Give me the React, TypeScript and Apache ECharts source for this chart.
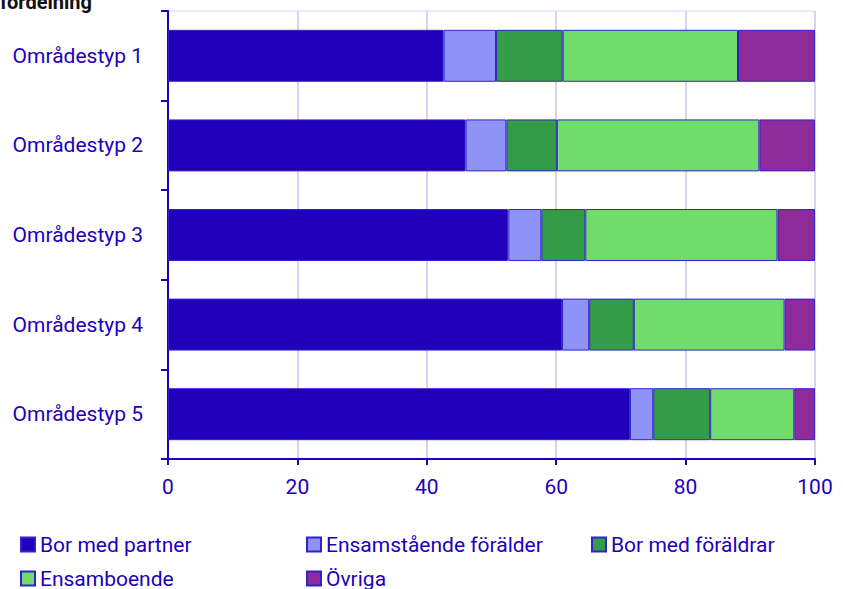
import React, { useEffect, useRef } from "react";
import * as echarts from "echarts";

const categories = ["Områdestyp 1", "Områdestyp 2", "Områdestyp 3", "Områdestyp 4", "Områdestyp 5"];
const borMedPartner = [42.6, 46.0, 52.6, 60.9, 71.4];
const ensamstaendeForalder = [8.1, 6.3, 5.1, 4.2, 3.6];
const borMedForaldrar = [10.3, 7.8, 6.8, 6.9, 8.8];
const ensamboende = [27.1, 31.3, 29.7, 23.3, 13.0];
const ovriga = [11.9, 8.6, 5.8, 4.7, 3.2];
const xTicks = [0, 20, 40, 60, 80, 100];

const seriesNames = ["Bor med partner", "Ensamstående förälder", "Bor med föräldrar", "Ensamboende", "Övriga"];
const seriesData = [borMedPartner, ensamstaendeForalder, borMedForaldrar, ensamboende, ovriga];
const colors = ["#2200bb", "#8f93f5", "#339c46", "#70dd6a", "#8e2a9a"];

const TEXT = "#2200bb";
const FONT = "Roboto";

export default function App() {
  const ref = useRef<HTMLDivElement>(null);
  useEffect(() => {
    const chart = echarts.init(ref.current!, null, { renderer: "svg" });
    const legendPos = [
      { left: 20, top: 534 },
      { left: 306, top: 534 },
      { left: 591, top: 534 },
      { left: 20, top: 568 },
      { left: 306, top: 568 },
    ];
    chart.setOption({
      animation: false,
      textStyle: { fontFamily: FONT },
      grid: {
        left: 168,
        right: 28,
        top: 11,
        bottom: 130,
        show: true,
        borderColor: "#d4d4f2",
        borderWidth: 1,
      },
      graphic: [
        {
          type: "text",
          x: 92,
          y: 12,
          style: {
            text: "Procentuell fördelning",
            align: "right",
            verticalAlign: "bottom",
            font: "bold 20px Roboto",
            fill: "#111",
          },
        },
      ],
      legend: seriesNames.map((n, i) => ({
        data: [n],
        left: legendPos[i].left,
        top: legendPos[i].top,
        padding: 0,
        itemWidth: 14,
        itemHeight: 14,
        icon: "rect",
        textStyle: { color: TEXT, fontSize: 21, fontFamily: FONT, padding: [0, 0, 0, 0] },
        itemGap: 5,
      })),
      xAxis: {
        type: "value",
        min: 0,
        max: 100,
        interval: 20,
        axisLine: { show: true, lineStyle: { color: TEXT, width: 2 } },
        axisTick: { show: true, length: 6, lineStyle: { color: TEXT, width: 2 } },
        axisLabel: {
          color: TEXT,
          fontSize: 21,
          fontFamily: FONT,
          margin: 17,
          formatter: (v: number) => (xTicks.includes(v) ? String(v) : ""),
        },
        splitLine: { show: true, lineStyle: { color: "#d4d4f2", width: 2 } },
      },
      yAxis: {
        type: "category",
        data: categories,
        inverse: true,
        axisLine: { show: true, lineStyle: { color: TEXT, width: 2 } },
        axisTick: { show: true, length: 7, lineStyle: { color: TEXT, width: 2 } },
        axisLabel: { color: TEXT, fontSize: 21, fontFamily: FONT, margin: 25 },
        splitLine: { show: false },
      },
      series: seriesNames.map((n, i) => ({
        name: n,
        type: "bar",
        stack: "total",
        data: seriesData[i],
        barWidth: "58%",
        itemStyle: { color: colors[i], borderColor: "#3322cc", borderWidth: 1 },
      })),
    });
    return () => chart.dispose();
  }, []);
  return <div ref={ref} style={{ width: 843, height: 589, position: "absolute", left: 0, top: 0 }} />;
}
